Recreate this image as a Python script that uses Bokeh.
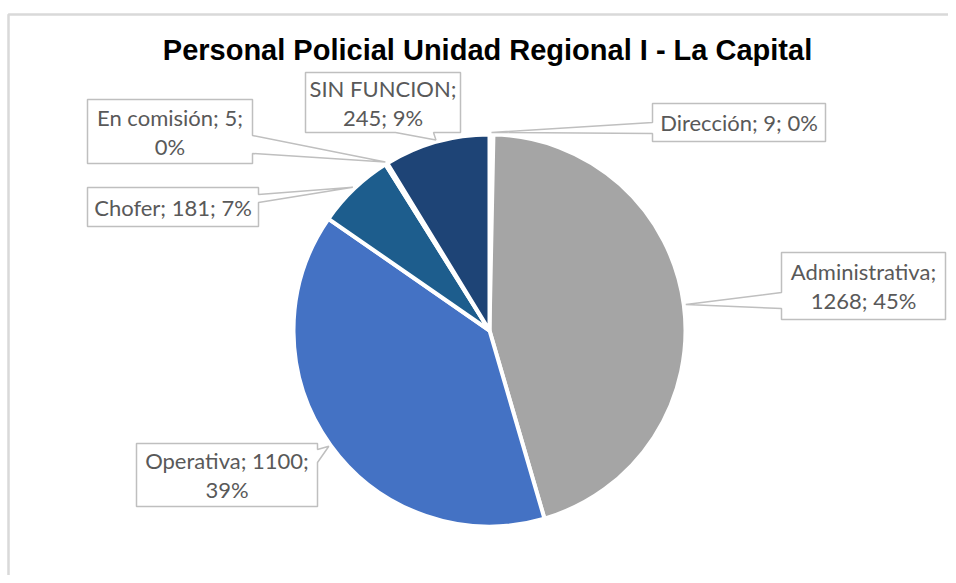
import numpy as np
from bokeh.plotting import figure
from bokeh.models import Range1d
from bokeh.core.properties import value
from bokeh.embed import file_html
from bokeh.resources import INLINE

# ---- data ----
categories = ["Dirección", "Administrativa", "Operativa", "Chofer", "En comisión", "SIN FUNCION"]
values = [9, 1268, 1100, 181, 5, 245]
pct_labels = ["0%", "45%", "39%", "7%", "0%", "9%"]
colors = ["#F2F2F2", "#A5A5A5", "#4472C4", "#1D5D8D", "#F2F2F2", "#1E4476"]
title_text = "Personal Policial Unidad Regional I - La Capital"

# ---- layout (screen pixel coordinates) ----
W, H = 948, 575


def Y(sy):
    return H - sy


CX, CY, R = 489, 330, 196

# box (left, top, right, bottom), pointer side, pointer base range, line break after n parts
label_layout = {
    "SIN FUNCION": dict(box=(305, 72, 460, 132), side="bottom", base=(395, 433), brk=1),
    "En comisión": dict(box=(87, 99, 252, 163), side="right", base=(135, 153), brk=2),
    "Chofer": dict(box=(87, 187, 258, 226), side="right", base=(194, 202), brk=None),
    "Dirección": dict(box=(652, 103, 825, 141), side="left", base=(122, 133), brk=None),
    "Administrativa": dict(box=(781, 252, 945, 319), side="left", base=(292, 308), brk=1),
    "Operativa": dict(box=(136, 443, 317, 506), side="right", base=(449, 462), brk=2),
}

FONT = value("Lato")
TXT_SIZE = "22px"
TXT_COLOR = "#595959"
LINE_GAP = 29

p = figure(width=W, height=H, output_backend="svg", toolbar_location=None,
           x_range=Range1d(0, W), y_range=Range1d(0, H),
           min_border=0, background_fill_color="white", border_fill_color="white")
p.axis.visible = False
p.grid.visible = False
p.outline_line_color = None

# chart frame border
p.line(x=[8, 8, W], y=[Y(H), Y(14), Y(14)], line_color="#D9D9D9", line_width=2.5)

# title
p.text(x=[487], y=[Y(49)], text=[title_text], text_font=value("Liberation Sans"),
       text_font_style="bold", text_font_size="29px", text_color="#000000",
       text_align="center", text_baseline="middle")

# pie wedges, clockwise from 12 o'clock
vals = np.array(values, dtype=float)
frac = vals / vals.sum()
cum_end = np.cumsum(frac)
cum_start = cum_end - frac
start_angles = np.pi / 2 - cum_end * 2 * np.pi
end_angles = np.pi / 2 - cum_start * 2 * np.pi
p.wedge(x=CX, y=Y(CY), radius=R, start_angle=list(start_angles), end_angle=list(end_angles),
        fill_color=colors, line_color="white", line_width=4)

# callout labels
for i, cat in enumerate(categories):
    lay = label_layout[cat]
    l, t, r, b = lay["box"]
    mid = (cum_start[i] + cum_end[i]) / 2 * 2 * np.pi
    tipx = CX + (R + 2) * np.sin(mid)
    tipy = CY - (R + 2) * np.cos(mid)
    b0, b1 = lay["base"]
    pts = [(l, t), (r, t)]
    if lay["side"] == "right":
        pts += [(r, b0), (tipx, tipy), (r, b1)]
    pts += [(r, b)]
    if lay["side"] == "bottom":
        pts += [(b1, b), (tipx, tipy), (b0, b)]
    pts += [(l, b)]
    if lay["side"] == "left":
        pts += [(l, b1), (tipx, tipy), (l, b0)]
    xs = [pt[0] for pt in pts]
    ys = [Y(pt[1]) for pt in pts]
    p.patch(x=xs, y=ys, fill_color="white", line_color="#BFBFBF", line_width=1.5)

    parts = [f"{cat};", f"{values[i]};", pct_labels[i]]
    brk = lay["brk"]
    if brk is None:
        lines = [" ".join(parts)]
    else:
        lines = [" ".join(parts[:brk]), " ".join(parts[brk:])]
    cy = (t + b) / 2
    n = len(lines)
    for k, ln in enumerate(lines):
        ly = cy + (k - (n - 1) / 2) * LINE_GAP
        p.text(x=[(l + r) / 2], y=[Y(ly)], text=[ln], text_font=FONT, text_font_size=TXT_SIZE,
               text_color=TXT_COLOR, text_align="center", text_baseline="middle")

open("out.html", "w").write(file_html(p, INLINE))
